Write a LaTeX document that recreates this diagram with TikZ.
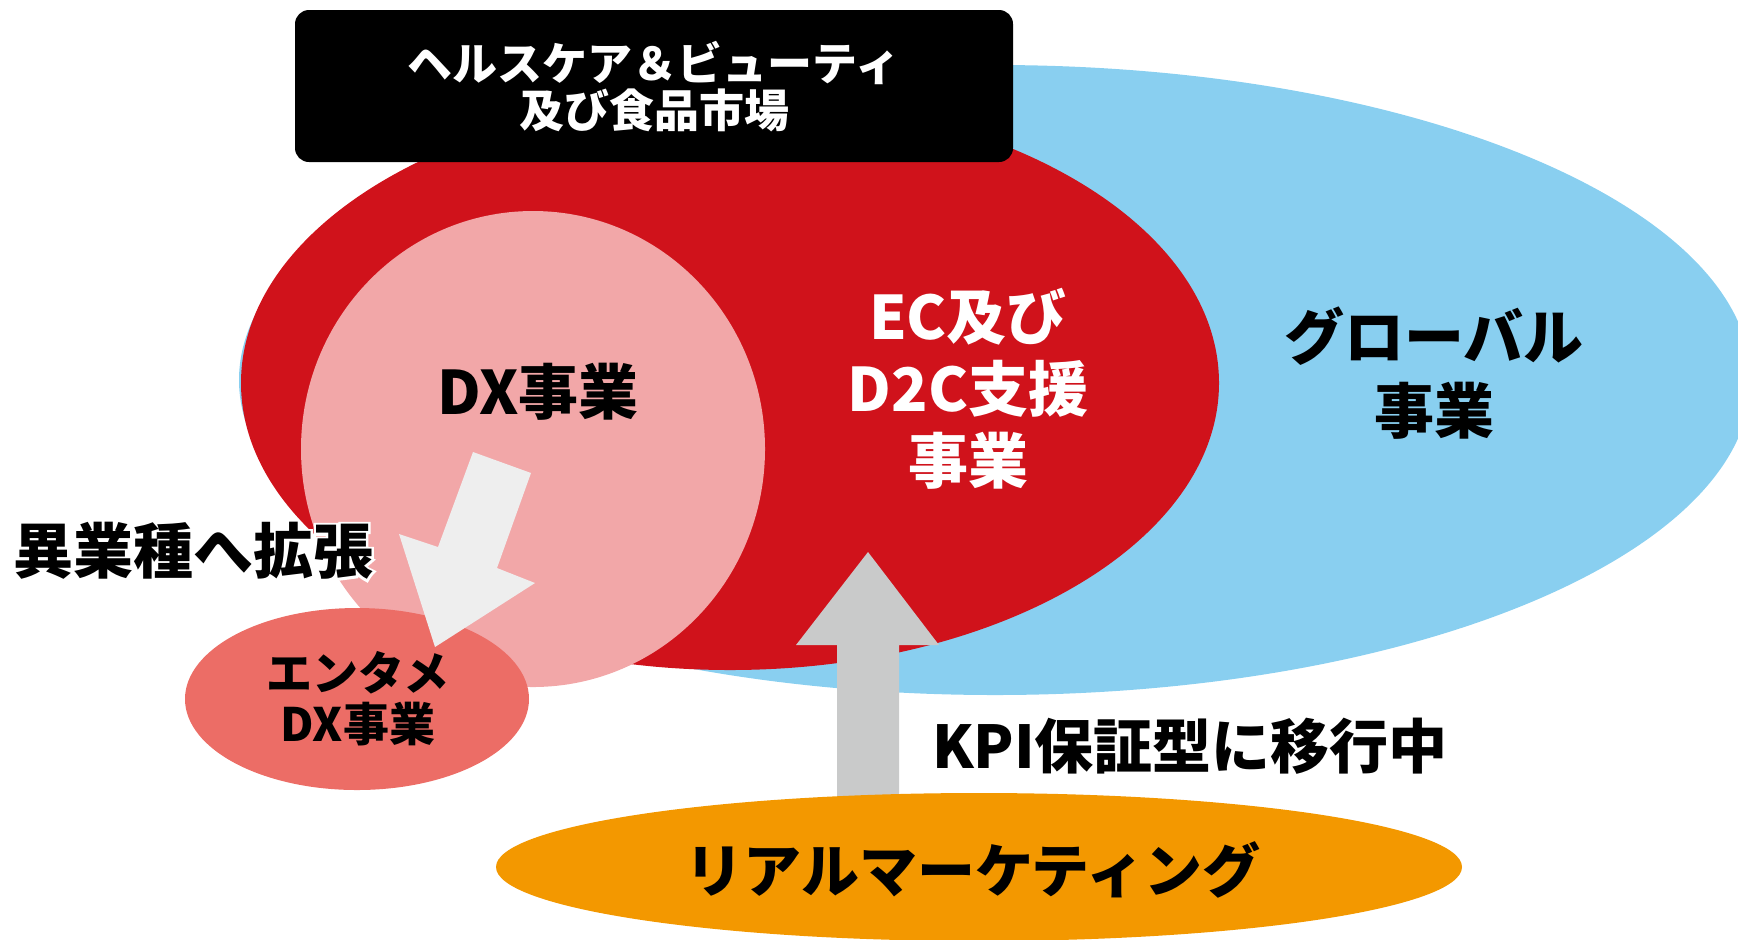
\documentclass[tikz,border=0pt]{standalone}
\usepackage{fontspec}
\setmainfont{Noto Sans CJK JP}
\newfontfamily\halofont{Noto Sans CJK JP}[FakeBold=8]
\usetikzlibrary{shapes.geometric}
\definecolor{bluec}{RGB}{137,207,240}
\definecolor{redc}{RGB}{208,18,27}
\definecolor{pinkc}{RGB}{242,167,168}
\definecolor{salmonc}{RGB}{236,109,102}
\definecolor{orangec}{RGB}{243,152,0}
\definecolor{grayarrow}{RGB}{201,202,202}
\definecolor{lightarrow}{RGB}{238,238,238}
\begin{document}
\begin{tikzpicture}[x=0.5pt,y=-0.5pt,
  blob/.style={ellipse, inner sep=0pt, outer sep=0pt, draw=none},
  lbl/.style={inner sep=0pt, outer sep=0pt, align=center, font=\bfseries\fontsize{30}{36}\selectfont}]
\useasboundingbox (0,0) rectangle (1738,939);
\begin{scope}
\clip (0,0) rectangle (1738,939);
% areas
\node[blob, fill=bluec, minimum width=756pt, minimum height=315pt] (global) at (995,380) {};
\node[blob, fill=redc, minimum width=489pt, minimum height=287pt] (ec) at (730,383) {};
\node[blob, fill=pinkc, minimum width=232pt, minimum height=238pt] (dx) at (533,449) {};
\node[blob, fill=salmonc, minimum width=172pt, minimum height=91pt] (enta) at (357,699) {};
% expansion arrow
\coordinate (la1) at (473,452);
\coordinate (la2) at (531,473);
\coordinate (la3) at (497,568);
\coordinate (la4) at (535,583);
\coordinate (latip) at (435,647);
\coordinate (la6) at (399,534);
\coordinate (la7) at (438,547);
\fill[lightarrow] (la1) -- (la2) -- (la3) -- (la4) -- (latip) -- (la6) -- (la7) -- cycle;
% upward arrow
\coordinate (uatip) at (868,552);
\coordinate (ua2) at (939,645);
\coordinate (ua3) at (899,645);
\coordinate (ua4) at (899,800);
\coordinate (ua5) at (837,800);
\coordinate (ua6) at (837,645);
\coordinate (ua7) at (796,645);
\fill[grayarrow] (uatip) -- (ua2) -- (ua3) -- (ua4) -- (ua5) -- (ua6) -- (ua7) -- cycle;
\node[blob, fill=orangec, minimum width=483pt, minimum height=74pt] (real) at (979,867) {};
\end{scope}
% market box
\node[fill=black, rounded corners=7pt, minimum width=359pt, minimum height=76pt, inner sep=0pt] (market) at (654,86) {};
% labels
\node[lbl, text=white, font=\bfseries\fontsize{22.5}{23.5}\selectfont] (marketlbl) at (654,87) {ヘルスケア＆ビューティ\\及び食品市場};
\node[lbl] (dxlbl) at (538,392) {DX事業};
\node[lbl, text=white] (eclbl) at (968,389) {EC及び\\D2C支援\\事業};
\node[lbl, font=\bfseries\fontsize{30}{37}\selectfont] (globallbl) at (1434,373) {グローバル\\事業};
\node[lbl, font=\bfseries\fontsize{23}{25.5}\selectfont] (entalbl) at (358,699) {エンタメ\\DX事業};
\node[lbl, text=white, font=\halofont\bfseries\fontsize{30}{36}\selectfont] (expandhalo) at (193,551) {異業種へ拡張};
\node[lbl] (expandlbl) at (193,551) {異業種へ拡張};
\node[lbl, font=\bfseries\fontsize{29.5}{36}\selectfont] (kpilbl) at (1190,746) {KPI保証型に移行中};
\node[lbl, font=\bfseries\fontsize{29}{34}\selectfont] (reallbl) at (973,870) {リアルマーケティング};
\end{tikzpicture}
\end{document}
